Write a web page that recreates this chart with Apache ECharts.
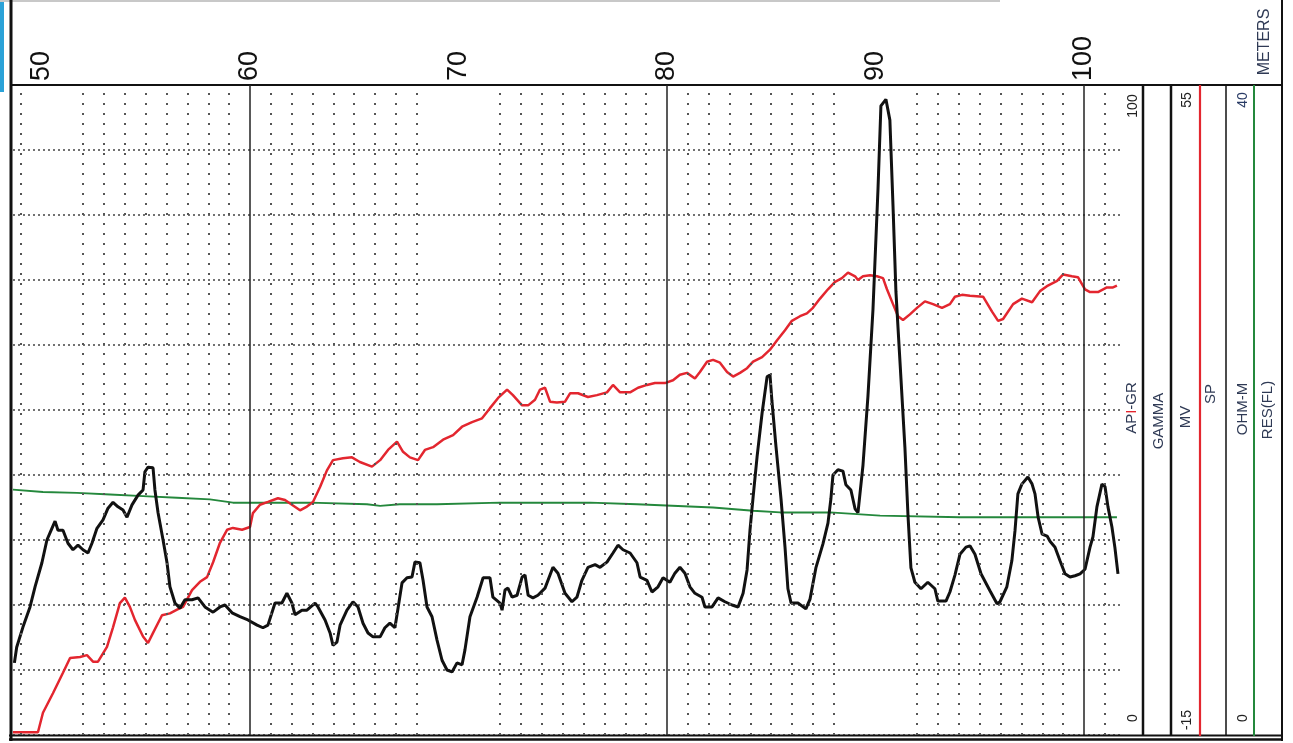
<!DOCTYPE html>
<html>
<head>
<meta charset="utf-8">
<script src="https://cdn.jsdelivr.net/npm/echarts@6/dist/echarts.min.js"></script>
<style>
html,body{margin:0;padding:0;background:#fff;}
#chart{width:1293px;height:743px;}
</style>
</head>
<body>
<div id="chart"></div>
<script>
// Depth tick labels (meters)
const depthLabels = [50, 60, 70, 80, 90, 100];
const minorDepths = [49, 52, 53, 54, 55, 56, 57, 58, 59, 61, 62, 63, 64, 65, 66, 67, 68,
  72, 73, 74, 75, 76, 77, 78, 79, 81, 82, 83, 84, 85, 86, 87, 88, 92, 93, 94, 95, 96, 97, 98, 99, 101];
const majorDepths = [60, 80, 100];

// Gamma ray (API-GR), 0..100
const grDepth = [48.70,48.81,49.11,49.45,49.69,50.02,50.26,50.50,50.65,50.79,51.03,51.27,51.51,51.75,51.99,52.23,52.42,52.66,52.95,53.19,53.43,53.67,53.91,54.10,54.34,54.63,54.87,54.96,55.11,55.35,55.44,55.59,55.83,56.02,56.16,56.40,56.64,56.88,57.22,57.51,57.84,58.08,58.23,58.56,58.80,59.14,59.52,59.90,60.34,60.62,60.86,61.20,61.53,61.77,62.01,62.16,62.49,62.73,63.12,63.26,63.60,63.84,63.98,64.17,64.32,64.65,64.94,65.18,65.42,65.66,65.90,66.24,66.47,66.71,66.95,67.10,67.29,67.53,67.77,67.91,68.15,68.30,68.49,68.73,68.97,69.21,69.45,69.69,69.93,70.17,70.31,70.55,70.89,71.18,71.51,71.65,71.99,72.09,72.23,72.37,72.57,72.81,73.05,73.19,73.34,73.57,73.81,74.15,74.53,74.77,75.11,75.44,75.68,75.92,76.21,76.55,76.79,77.12,77.41,77.65,77.89,78.23,78.56,78.71,79.04,79.28,79.57,79.81,80.14,80.38,80.62,80.86,81.10,81.34,81.68,81.82,82.16,82.45,82.78,83.12,83.41,83.65,83.84,83.98,84.13,84.32,84.56,84.80,84.94,85.03,85.23,85.47,85.66,85.80,85.95,86.28,86.66,86.86,87.14,87.48,87.72,87.86,87.96,88.20,88.44,88.58,88.82,89.02,89.16,89.40,89.64,89.88,90.12,90.26,90.50,90.69,90.84,90.98,91.22,91.41,91.56,91.70,91.89,92.18,92.51,92.85,92.99,93.38,93.57,93.81,94.05,94.34,94.53,94.77,95.06,95.49,95.83,95.97,96.30,96.54,96.69,96.83,97.02,97.31,97.51,97.65,97.80,97.99,98.23,98.37,98.61,98.85,99.09,99.33,99.57,99.81,100.05,100.29,100.43,100.62,100.86,101.01,101.15,101.34,101.48,101.63];
const grValue = [11.1,13.5,16.6,19.7,22.8,26.5,30.0,31.8,32.9,31.5,31.5,29.5,28.5,29.2,28.5,28.0,29.5,31.8,33.1,34.9,35.8,35.1,34.6,33.5,35.4,36.9,37.7,40.5,41.2,41.1,37.7,34.2,30.0,26.5,22.8,20.3,19.5,20.8,20.8,21.1,19.7,19.2,18.9,19.7,20.0,18.8,18.2,17.7,16.9,16.5,16.9,20.3,20.3,21.8,20.3,18.5,19.2,19.2,20.3,19.7,17.7,15.7,13.8,14.3,16.9,19.2,20.5,19.7,17.2,15.7,15.1,15.1,16.5,17.2,16.5,19.5,23.4,24.2,24.3,26.6,26.5,23.8,19.7,18.2,14.6,11.5,10.0,9.7,11.1,10.8,13.1,18.2,21.2,24.2,24.2,21.2,20.3,19.2,22.3,22.6,21.2,21.5,24.3,24.6,21.5,21.1,21.5,22.6,25.8,24.9,21.8,20.5,21.2,23.8,25.8,26.2,25.8,26.6,28.0,29.2,28.5,28.0,26.5,24.3,23.8,22.0,22.8,24.2,23.5,24.9,25.8,24.9,22.8,21.8,21.2,19.7,19.7,21.1,20.5,20.0,19.7,21.8,25.4,31.5,36.6,42.8,49.5,55.1,55.4,51.5,44.3,36.3,28.9,22.5,20.3,20.3,19.4,20.9,25.7,29.4,32.6,36.3,40.0,40.8,40.6,38.5,37.7,34.8,34.2,41.5,52.2,65.5,84.0,96.8,97.8,94.6,81.4,68.2,54.9,44.3,33.7,25.7,23.5,22.5,23.5,22.5,20.6,20.6,22.0,24.6,27.8,28.9,29.1,27.8,24.8,22.2,20.2,20.5,22.8,26.8,31.4,37.1,38.6,39.7,38.6,37.1,33.5,30.9,30.6,29.8,28.9,26.8,24.8,24.3,24.5,24.8,25.5,28.9,30.5,35.1,38.6,38.2,35.1,32.0,28.9,24.8];

// Spontaneous potential (SP, MV), -15..55
const spDepth = [48.63,49.83,50.07,50.55,51.03,51.37,51.85,52.18,52.47,52.71,53.14,53.43,53.76,54.00,54.24,54.48,54.87,55.11,55.35,55.78,56.16,56.50,56.79,57.22,57.60,57.94,58.23,58.56,58.90,59.18,59.62,60.00,60.14,60.48,60.86,61.34,61.68,62.01,62.40,62.73,63.02,63.36,63.69,63.98,64.46,64.89,65.27,65.85,66.24,66.62,67.05,67.34,67.67,68.06,68.39,68.78,69.26,69.74,70.17,70.65,71.13,71.51,71.90,72.33,72.61,73.05,73.34,73.67,73.91,74.15,74.39,74.72,75.11,75.35,75.73,76.21,76.64,77.12,77.41,77.75,78.23,78.61,79.04,79.42,79.90,80.29,80.62,80.96,81.34,81.58,81.92,82.21,82.54,82.88,83.17,83.50,83.84,84.13,84.56,84.94,85.28,85.66,85.99,86.38,86.71,87.00,87.34,87.72,88.06,88.39,88.68,89.02,89.16,89.40,89.74,90.07,90.36,90.55,90.84,91.08,91.32,91.65,91.99,92.37,92.76,93.19,93.57,93.81,94.15,94.53,95.16,95.59,95.88,96.12,96.60,97.02,97.51,97.89,98.27,98.71,99.00,99.42,99.71,100.05,100.29,100.67,101.10,101.39,101.58];
const spValue = [-14.7,-14.7,-12.6,-10.5,-8.3,-6.7,-6.6,-6.4,-7.1,-7.1,-5.5,-3.4,-0.8,-0.2,-1.2,-2.6,-4.4,-5.1,-4.0,-2.1,-1.9,-1.5,-1.2,0.6,1.5,2.0,3.6,5.7,7.1,7.3,7.1,7.4,8.9,9.8,10.1,10.5,10.3,9.8,9.2,9.6,10.1,11.7,13.5,14.6,14.8,14.9,14.4,13.9,14.6,15.7,16.6,15.5,14.9,14.6,15.7,16.0,16.8,17.3,18.2,18.7,19.1,20.2,21.3,22.2,21.6,20.5,20.5,21.1,22.2,22.4,20.9,20.8,20.9,21.8,21.8,21.4,21.6,21.9,22.7,21.9,21.9,22.4,22.7,22.9,22.9,23.2,23.8,24.0,23.4,24.1,25.2,25.4,25.1,24.1,23.6,24.0,24.5,25.2,25.7,26.5,27.5,28.6,29.6,30.1,30.4,31.0,32.0,33.0,33.8,34.2,34.8,34.4,34.0,34.4,34.5,34.4,34.2,33.0,31.4,30.1,29.7,30.3,31.0,31.7,31.4,31.0,31.4,32.2,32.4,32.3,32.2,30.6,29.6,29.8,31.4,32.0,31.6,32.8,33.4,33.9,34.6,34.4,34.3,33.0,32.7,32.7,33.2,33.2,33.4];

// Resistivity (RES(FL), OHM-M), 0..40
const resDepth = [48.63,50.07,51.70,53.29,54.87,56.50,58.08,59.18,60.82,62.88,65.61,66.24,67.19,68.97,71.99,76.31,78.56,82.21,84.13,85.42,87.82,90.22,94.05,97.89,101.58];
const resValue = [15.1,14.95,14.9,14.8,14.7,14.6,14.5,14.3,14.3,14.3,14.2,14.1,14.2,14.2,14.3,14.3,14.2,14.0,13.8,13.7,13.7,13.5,13.4,13.4,13.4];

const zip = (a, b) => a.map((d, i) => [d, b[i]]);

const chart = echarts.init(document.getElementById('chart'), null, {renderer: 'canvas'});

const LBL = '#2f3a55';
const FF = 'Liberation Sans, Arial, sans-serif';
function vtext(x, y, text, size, color, extra) {
  return {
    type: 'text', x: x, y: y, rotation: Math.PI / 2, z: 10,
    style: Object.assign({
      text: text, fill: color || LBL, fontSize: size, fontFamily: FF,
      align: 'center', verticalAlign: 'middle'
    }, extra || {})
  };
}
function vline(x, y1, y2, w, c) {
  return {type: 'line', z: 5, shape: {x1: x, y1: y1, x2: x, y2: y2}, style: {stroke: c || '#111', lineWidth: w}};
}
function hline(y, x1, x2, w, c) {
  return {type: 'line', z: 5, shape: {x1: x1, y1: y, x2: x2, y2: y}, style: {stroke: c || '#111', lineWidth: w}};
}

const gridMarks = minorDepths.map(v => ({xAxis: v, lineStyle: {type: [2, 8], width: 2, color: '#555'}}))
  .concat(majorDepths.map(v => ({xAxis: v, lineStyle: {type: 'solid', width: 1.5, color: '#222'}})));

const option = {
  animation: false,
  backgroundColor: '#fff',
  grid: {left: 13, right: 173, top: 85, bottom: 8, containLabel: false},
  xAxis: {
    type: 'value', position: 'top', min: 48.633, max: 101.727,
    axisLine: {show: false}, axisTick: {show: false}, splitLine: {show: false},
    axisLabel: {
      customValues: depthLabels, rotate: 90, fontSize: 27, fontFamily: FF,
      color: '#111', margin: 4
    }
  },
  yAxis: [
    {type: 'value', min: 0, max: 100, interval: 10, axisLabel: {show: false}, axisLine: {show: false}, axisTick: {show: false},
     splitLine: {show: true, lineStyle: {type: [2, 3], width: 1.5, color: '#444'}}},
    {type: 'value', min: -15, max: 55, show: false, splitLine: {show: false}},
    {type: 'value', min: 0, max: 40, show: false, splitLine: {show: false}}
  ],
  series: [
    {name: 'grid', type: 'line', data: [], z: 1, silent: true,
     markLine: {symbol: 'none', silent: true, animation: false, label: {show: false}, data: gridMarks}},
    {name: 'RES(FL)', type: 'line', yAxisIndex: 2, data: zip(resDepth, resValue), showSymbol: false, z: 2,
     lineStyle: {color: '#24883c', width: 2}},
    {name: 'SP', type: 'line', yAxisIndex: 1, data: zip(spDepth, spValue), showSymbol: false, z: 3,
     lineStyle: {color: '#e3262f', width: 2.5}},
    {name: 'API-GR', type: 'line', yAxisIndex: 0, data: zip(grDepth, grValue), showSymbol: false, z: 4,
     lineStyle: {color: '#111', width: 3}}
  ],
  graphic: [
    {type: 'rect', z: 5, shape: {x: 0, y: 0, width: 4, height: 92}, style: {fill: '#2ba2d8'}},
    hline(1, 0, 1000, 2, '#c8c8c8'),
    vline(11, 0, 741, 3),
    vline(1282, 0, 741, 2),
    hline(85, 10, 1283, 2),
    hline(735.5, 9, 1283, 2),
    hline(739.5, 9, 1283, 2.5),
    vline(1143, 85, 736, 2.5),
    vline(1171, 85, 736, 2.5),
    vline(1226, 85, 736, 1.5),
    vline(1200, 85, 736, 2.2, '#e3262f'),
    vline(1254, 85, 736, 2, '#24883c'),
    vtext(1133, 106, '100', 14, '#222'),
    vtext(1133, 718, '0', 14, '#222'),
    vtext(1187, 100, '55', 14, '#222'),
    vtext(1187, 720, '-15', 14, '#222'),
    vtext(1243, 100, '40', 14, '#2a3c66'),
    vtext(1243, 718, '0', 14, '#222'),
    vtext(1132, 408, 'AP{r|I}-GR', 15, LBL, {rich: {r: {fill: '#e3262f', fontSize: 15, fontFamily: FF}}}),
    vtext(1159, 421, 'GAMMA', 15),
    vtext(1186, 417, 'MV', 15),
    vtext(1211, 394, 'SP', 15),
    vtext(1243, 409, 'OHM-M', 15),
    vtext(1268, 410, 'RES(FL)', 15),
    vtext(1265, 42, 'METERS', 16)
  ]
};
chart.setOption(option);
</script>
</body>
</html>
